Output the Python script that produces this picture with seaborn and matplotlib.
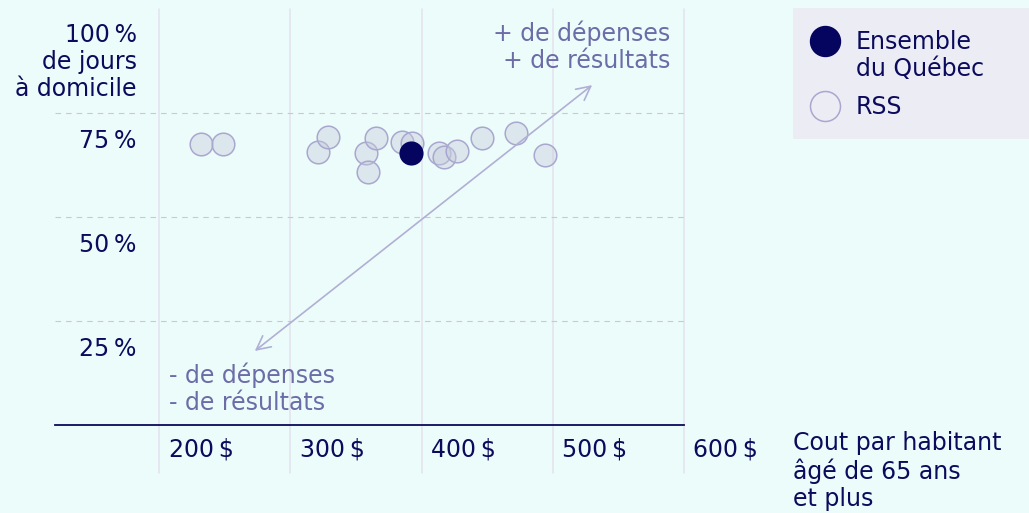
import numpy as np
import pandas as pd
import matplotlib
matplotlib.use("Agg")
import matplotlib.pyplot as plt
from matplotlib.lines import Line2D
from matplotlib.patches import Rectangle
from matplotlib.transforms import ScaledTranslation
import seaborn as sns

# Coût par habitant de 65 ans et plus ($) et part des jours passés à domicile (%)
rss_cout = [232, 249, 321, 329, 358, 359, 365, 385, 393, 413, 417, 427, 446, 472, 494]
rss_jours = [67.5, 67.5, 65.7, 69.2, 65.5, 60.8, 68.9, 68.1, 67.7, 65.3, 64.5, 65.9, 68.9, 70.1, 64.9]
quebec_cout = [392]
quebec_jours = [65.5]

x_ticks = [200, 300, 400, 500, 600]
x_ticklabels = ["200\u202f$", "300\u202f$", "400\u202f$", "500\u202f$", "600\u202f$"]
y_ticks = [25, 50, 75, 100]
y_ticklabels = ["25\u202f%", "50\u202f%", "75\u202f%", "100\u202f%\nde jours\nà domicile"]
legend_labels = ["Ensemble\ndu Québec", "RSS"]

BG = "#ecfcfa"
NAVY = "#0c0a5c"
DOT = "#05045e"
MUTED = "#6b6ca8"
RSS_FACE = (0.776, 0.792, 0.863, 0.42)
RSS_EDGE = "#a9a7cf"
GRID_V = "#e4e2ee"
GRID_H = "#c8c7db"

sns.set_style("white")
plt.rcParams["font.family"] = ["DejaVu Sans"]
plt.rcParams["text.color"] = NAVY
FS = 17
LS = 1.16      # line spacing of the multi-line labels
LINE_IN = 0.265  # one text line, in inches

df_rss = pd.DataFrame({"cout": rss_cout, "jours": rss_jours})
df_qc = pd.DataFrame({"cout": quebec_cout, "jours": quebec_jours})

W, H = 1029, 513
fig = plt.figure(figsize=(W / 100, H / 100), dpi=100, facecolor=BG)
ax = fig.add_axes([55 / W, 1 - 425 / H, (684 - 55) / W, (425 - 9) / H])
ax.set_facecolor(BG)
ax.set_xlim(120.76, 600)
ax.set_ylim(0, 100)

# vertical guides run down through the tick-label band
for xv in x_ticks:
    ax.axvline(xv, ymin=-48 / 416, ymax=1, color=GRID_V, lw=1.1, clip_on=False, zorder=0)
for yv in y_ticks[:-1]:
    ax.axhline(yv, color=GRID_H, lw=0.8, ls=(0, (5, 4.5)), zorder=0)

sns.scatterplot(data=df_rss, x="cout", y="jours", s=265, color=RSS_FACE,
                edgecolor=RSS_EDGE, linewidth=1.1, ax=ax, legend=False, zorder=3)
sns.scatterplot(data=df_qc, x="cout", y="jours", s=265, color=DOT,
                edgecolor=DOT, linewidth=1.1, ax=ax, legend=False, zorder=4)

for s in ["top", "right", "left"]:
    ax.spines[s].set_visible(False)
ax.spines["bottom"].set_color(NAVY)
ax.spines["bottom"].set_linewidth(1.3)

ax.set_xticks(x_ticks, x_ticklabels)
ax.set_yticks(y_ticks, y_ticklabels)
ax.tick_params(axis="x", length=0, pad=22.8, labelsize=FS, labelcolor=NAVY)
ax.tick_params(axis="y", length=0, pad=-58.8, labelsize=FS, labelcolor=NAVY)
for lab in ax.get_xticklabels():
    lab.set_ha("left")
    lab.set_va("baseline")
    lab.set_transform(lab.get_transform() + ScaledTranslation(0.095, 0, fig.dpi_scale_trans))
for lab in ax.get_yticklabels():
    lab.set_ha("right")
    lab.set_va("baseline")
    lab.set_linespacing(LS)
    n_extra = lab.get_text().count("\n")
    dy = -0.355 if n_extra == 0 else -0.34 - n_extra * LINE_IN
    lab.set_transform(lab.get_transform() + ScaledTranslation(0, dy, fig.dpi_scale_trans))
ax.set_xlabel("")
ax.set_ylabel("")

# axis title on the right of the x axis (baseline of its last line)
ax.text((793 - 55) / 629, (425 - 506) / 416, "Cout par habitant\nâgé de 65 ans\net plus",
        transform=ax.transAxes, ha="left", va="baseline", fontsize=FS, color=NAVY,
        linespacing=LS, clip_on=False)

# diagonal reading guide
ax.annotate("", xy=(530, 81.7), xytext=(273, 17.8),
            arrowprops=dict(arrowstyle="<->,head_length=0.55,head_width=0.28",
                            color="#b1afd5", lw=1.2, shrinkA=0, shrinkB=0,
                            mutation_scale=18))
ax.text((670 - 55) / 629, (425 - 68.3) / 416, "+ de dépenses\n+ de résultats",
        transform=ax.transAxes, ha="right", va="baseline", fontsize=FS, color=MUTED,
        linespacing=LS)
ax.text((169.3 - 55) / 629, (425 - 410) / 416, "- de dépenses\n- de résultats",
        transform=ax.transAxes, ha="left", va="baseline", fontsize=FS, color=MUTED,
        linespacing=LS)

# legend panel
fig.patches.append(Rectangle((793 / W, 1 - 139 / H), (W - 793) / W + 0.01, (139 - 8) / H,
                             transform=fig.transFigure, facecolor="#ecedf4",
                             edgecolor="none", zorder=0))
handles = [
    Line2D([], [], ls="", marker="o", markersize=21.6, markerfacecolor=DOT,
           markeredgecolor=DOT),
    Line2D([], [], ls="", marker="o", markersize=21.6, markerfacecolor="none",
           markeredgecolor=RSS_EDGE, markeredgewidth=1.1),
]
leg = fig.legend(handles, legend_labels, loc="upper left",
                 bbox_to_anchor=(810 / W, 1 - 30 / H), frameon=False, borderpad=0,
                 borderaxespad=0, handlelength=1.3, handletextpad=0.65,
                 labelspacing=0.6, fontsize=FS, labelcolor=NAVY)
for t in leg.get_texts():
    t.set_linespacing(LS)
# align the Québec marker with the first line of its label
h0 = leg.legend_handles[0]
h0.set_ydata(np.asarray(h0.get_ydata()) + 11.7)

fig.savefig("out.png", dpi=100, facecolor=BG)
